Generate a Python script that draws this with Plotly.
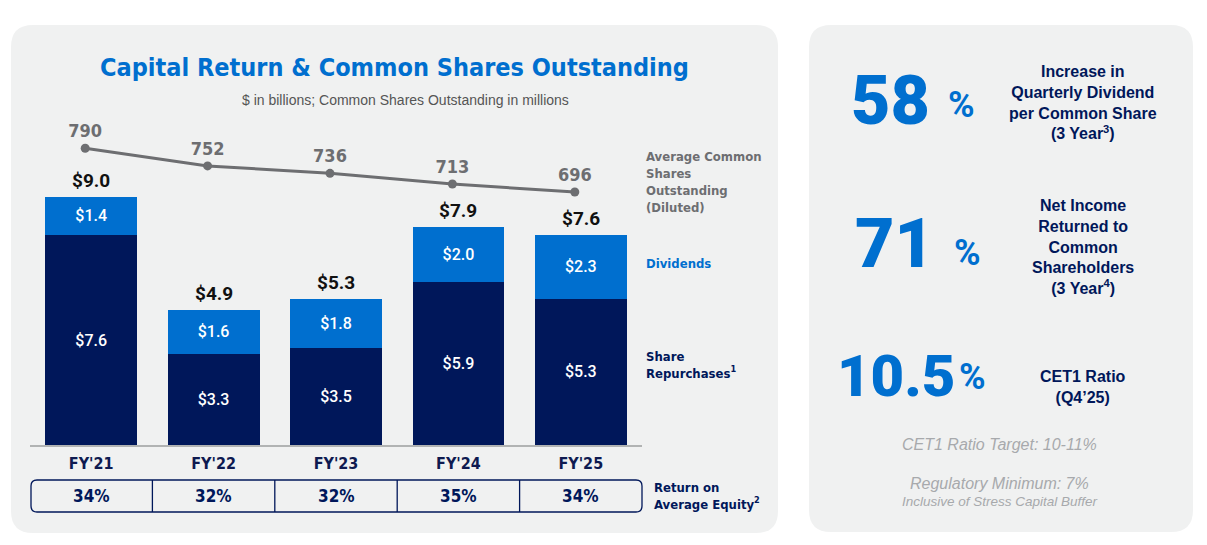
import plotly.graph_objects as go

# the page puts the figure 8px in from the top-left corner
OX, OY = 8, 8
FW, FH = 1191, 529

# data
years = ["FY'21", "FY'22", "FY'23", "FY'24", "FY'25"]
repurchases = [7.6, 3.3, 3.5, 5.9, 5.3]
dividends = [1.4, 1.6, 1.8, 2.0, 2.3]
totals = [9.0, 4.9, 5.3, 7.9, 7.6]
shares = [790, 752, 736, 713, 696]
roe = [34, 32, 32, 35, 34]

# colours / fonts
navy = "#00175A"
blue = "#006FCF"
grey = "#6D6E71"
panel = "#F0F1F1"
cond = "DejaVu Sans Condensed, Liberation Sans Narrow, Arial Narrow, sans-serif"
sans = "Roboto, Liberation Sans, Arial, sans-serif"
wide = "Liberation Sans, Arial, sans-serif"


def px(x):
    return (x - OX) / FW


def py(y):
    return 1 - (y - OY) / FH


def rrect(x0, y0, x1, y1, r):
    # rounded rectangle path in paper coords, input in pixels (y down)
    rx, ry = r / FW, r / FH
    a, b, c, d = px(x0), py(y0), px(x1), py(y1)
    return (f"M {a + rx},{b} L {c - rx},{b} Q {c},{b} {c},{b - ry} "
            f"L {c},{d + ry} Q {c},{d} {c - rx},{d} L {a + rx},{d} "
            f"Q {a},{d} {a},{d + ry} L {a},{b - ry} Q {a},{b} {a + rx},{b} Z")


fig = go.Figure()

fig.add_trace(go.Bar(
    x=years, y=repurchases, name="Share Repurchases",
    marker=dict(color=navy, line=dict(width=0)),
    text=[f"${v:.1f}" for v in repurchases],
    textposition="inside", insidetextanchor="middle", textangle=0,
    textfont=dict(family=sans, size=16, color="white", weight=500),
))
fig.add_trace(go.Bar(
    x=years, y=dividends, name="Dividends",
    marker=dict(color=blue, line=dict(width=0)),
    text=[f"${v:.1f}" for v in dividends],
    textposition="inside", insidetextanchor="middle", textangle=0,
    textfont=dict(family=sans, size=16, color="white", weight=500),
))
fig.add_trace(go.Scatter(
    x=years, y=shares, xaxis="x2", yaxis="y2",
    mode="lines+markers+text",
    text=[f"<b>{v}</b>" for v in shares], textposition="top center",
    textfont=dict(family=cond, size=18, color=grey),
    line=dict(color=grey, width=3),
    marker=dict(color=grey, size=9),
    cliponaxis=False,
))

annotations = []
for yr, t in zip(years, totals):
    annotations.append(dict(
        x=yr, y=t, xref="x", yref="y", yanchor="bottom", yshift=3,
        text=f"<b>${t:.1f}</b>", showarrow=False,
        font=dict(family=sans, size=19, color="#111111"),
    ))
for yr, v in zip(years, roe):
    annotations.append(dict(
        x=yr, y=py(496), xref="x", yref="paper", yanchor="middle",
        text=f"<b>{v}%</b>", showarrow=False,
        font=dict(family=cond, size=17, color=navy),
    ))


def note(text, x, y, size, color, family=cond, xanchor="left", align="left", italic=False, weight=None):
    f = dict(family=family, size=size, color=color, style="italic" if italic else "normal")
    if weight:
        f["weight"] = weight
    annotations.append(dict(
        x=px(x), y=py(y), xref="paper", yref="paper", xanchor=xanchor, yanchor="middle",
        align=align, text=text, showarrow=False, font=f,
    ))


# left panel text
note("<b>Capital Return & Common Shares Outstanding</b>", 394, 68, 25, blue, xanchor="center", align="center")
note("$ in billions; Common Shares Outstanding in millions", 405, 100, 14, "#555555",
     family=wide, xanchor="center", align="center")
note("<b>Average Common<br>Shares<br>Outstanding<br>(Diluted)</b>", 644, 182, 13, grey)
note("<b>Dividends</b>", 644, 264, 13, blue)
note("<b>Share<br>Repurchases<sup>1</sup></b>", 644, 365, 13, navy)
note("<b>Return on<br>Average Equity<sup>2</sup></b>", 652, 496, 13, navy)

# right panel
note("58", 890, 101, 68, blue, family=sans, xanchor="center", weight=900)
note("<b>%</b>", 961, 105, 36, blue, family=sans, xanchor="center")
note("<b>Increase in<br>Quarterly Dividend<br>per Common Share<br>(3 Year<sup>3</sup>)</b>",
     1083, 102, 16, navy, family=wide, xanchor="center", align="center")
note("71", 894, 244, 68, blue, family=sans, xanchor="center", weight=900)
note("<b>%</b>", 967, 253, 36, blue, family=sans, xanchor="center")
note("<b>Net Income<br>Returned to<br>Common<br>Shareholders<br>(3 Year<sup>4</sup>)</b>",
     1083, 247, 16, navy, family=wide, xanchor="center", align="center")
note("10.5", 896, 376, 58, blue, family=sans, xanchor="center", weight=900)
note("<b>%</b>", 972, 377, 36, blue, family=sans, xanchor="center")
note("<b>CET1 Ratio<br>(Q4’25)</b>", 1083, 387, 16, navy, family=wide, xanchor="center", align="center")
note("CET1 Ratio Target: 10-11%", 1000, 444, 16, "#A7A9AC", family=wide, xanchor="center", italic=True)
note("Regulatory Minimum: 7%", 1000, 483, 16, "#A7A9AC", family=wide, xanchor="center", italic=True)
note("Inclusive of Stress Capital Buffer", 1000, 501, 13.5, "#A7A9AC", family=wide, xanchor="center", italic=True)

shapes = [
    dict(type="path", path=rrect(11, 25, 778, 533, 22), xref="paper", yref="paper",
         fillcolor=panel, line=dict(width=0), layer="below"),
    dict(type="path", path=rrect(809, 25, 1193, 532, 22), xref="paper", yref="paper",
         fillcolor=panel, line=dict(width=0), layer="below"),
    dict(type="path", path=rrect(31, 480, 642, 512, 6), xref="paper", yref="paper",
         line=dict(color=navy, width=1.3)),
]
for i in range(len(years) - 1):
    shapes.append(dict(type="line", xref="x", yref="paper", x0=i + 0.5, x1=i + 0.5,
                       y0=py(480), y1=py(512), line=dict(color=navy, width=1.3)))

ydom = [py(445), py(445 - 12 * 27.6)]

fig.update_layout(
    width=FW, height=FH,
    margin=dict(l=0, r=0, t=0, b=0),
    paper_bgcolor="white", plot_bgcolor="rgba(0,0,0,0)",
    barmode="stack", bargap=0.25, showlegend=False,
    xaxis=dict(domain=[px(30), px(642)], range=[-0.5, 4.5], type="category",
               showline=True, linecolor="#B1B3B3", linewidth=2, showgrid=False,
               zeroline=False, ticks="", ticklabelstandoff=3, fixedrange=True,
               tickfont=dict(family=cond, size=16, color="#0E1A50", weight="bold")),
    yaxis=dict(domain=ydom, range=[0, 12], visible=False),
    xaxis2=dict(domain=[px(24), px(636)], range=[-0.5, 4.5], type="category",
                anchor="y2", visible=False),
    yaxis2=dict(domain=ydom, range=[152, 864], anchor="x2", visible=False),
    annotations=annotations,
    shapes=shapes,
)

fig.write_html("out.html")
